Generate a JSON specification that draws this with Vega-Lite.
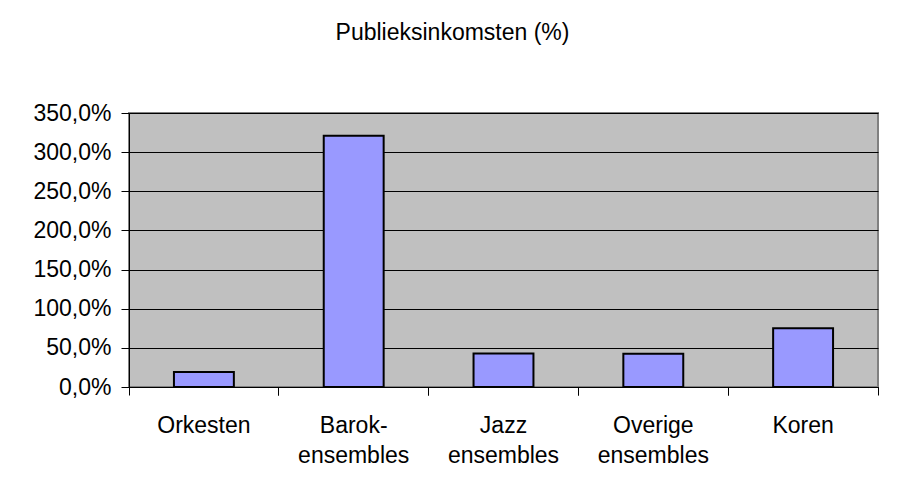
{
  "$schema": "https://vega.github.io/schema/vega-lite/v6.json",
  "autosize": {"type": "none"},
  "padding": {"left": 129, "top": 113, "right": 20, "bottom": 116},
  "width": 749,
  "height": 274,
  "background": "white",
  "title": {
    "text": "Publieksinkomsten (%)",
    "font": "Liberation Sans",
    "fontSize": 23,
    "fontWeight": "normal",
    "color": "black",
    "anchor": "middle",
    "frame": "group",
    "dx": -51,
    "offset": 57
  },
  "data": {
    "values": [
      {"categorie": "Orkesten", "waarde": 19.2},
      {"categorie": "Barok-|ensembles", "waarde": 321},
      {"categorie": "Jazz|ensembles", "waarde": 42.7},
      {"categorie": "Overige|ensembles", "waarde": 42.5},
      {"categorie": "Koren", "waarde": 75.1}
    ]
  },
  "resolve": {"axis": {"x": "independent"}},
  "layer": [
    {
      "mark": {"type": "bar", "color": "#9999ff", "stroke": "black", "strokeWidth": 2, "width": {"band": 0.4}},
      "encoding": {
        "x": {
          "field": "categorie",
          "type": "nominal",
          "sort": null,
          "scale": {"paddingInner": 0, "paddingOuter": 0},
          "axis": {"title": null, "orient": "bottom", "labelExpr": "split(datum.value, '|')", "labelAngle": 0, "labelFont": "Liberation Sans", "labelFontSize": 23, "labelColor": "black", "labelLineHeight": 30, "labelPadding": 27, "labelOverlap": false, "ticks": false, "domain": false, "grid": false}
        },
        "y": {
          "field": "waarde",
          "type": "quantitative",
          "scale": {"domain": [0, 350], "nice": false},
          "axis": {
            "title": null,
            "values": [0, 50, 100, 150, 200, 250, 300, 350],
            "labelExpr": "replace(format(datum.value, '.1f'), '.', ',') + '%'",
            "labelFont": "Liberation Sans",
            "labelFontSize": 23,
            "labelColor": "black",
            "labelPadding": 10,
            "labelOverlap": false,
            "labelBound": false,
            "labelFlush": false,
            "tickSize": 8,
            "tickColor": "black",
            "domainColor": "black",
            "domainWidth": 1,
            "grid": true,
            "gridColor": "black",
            "gridWidth": 1,
            "gridOpacity": 1
          }
        }
      }
    },
    {
      "mark": {"type": "bar", "opacity": 0, "width": {"band": 0.4}},
      "encoding": {
        "x": {
          "field": "categorie",
          "type": "nominal",
          "sort": null,
          "axis": {"title": null, "orient": "bottom", "labels": false, "ticks": true, "tickSize": 8, "tickColor": "black", "bandPosition": 0, "domain": true, "domainColor": "black", "domainWidth": 1, "grid": false}
        }
      }
    },
    {
      "mark": {"type": "bar", "opacity": 0, "width": {"band": 0.4}},
      "encoding": {
        "x": {
          "field": "categorie",
          "type": "nominal",
          "sort": null,
          "axis": {"title": null, "orient": "bottom", "labels": false, "ticks": true, "tickSize": 8, "tickColor": "black", "bandPosition": 1, "domain": false, "grid": false}
        }
      }
    }
  ],
  "config": {
    "view": {"fill": "#c0c0c0", "stroke": "#808080", "strokeWidth": 2}
  }
}
